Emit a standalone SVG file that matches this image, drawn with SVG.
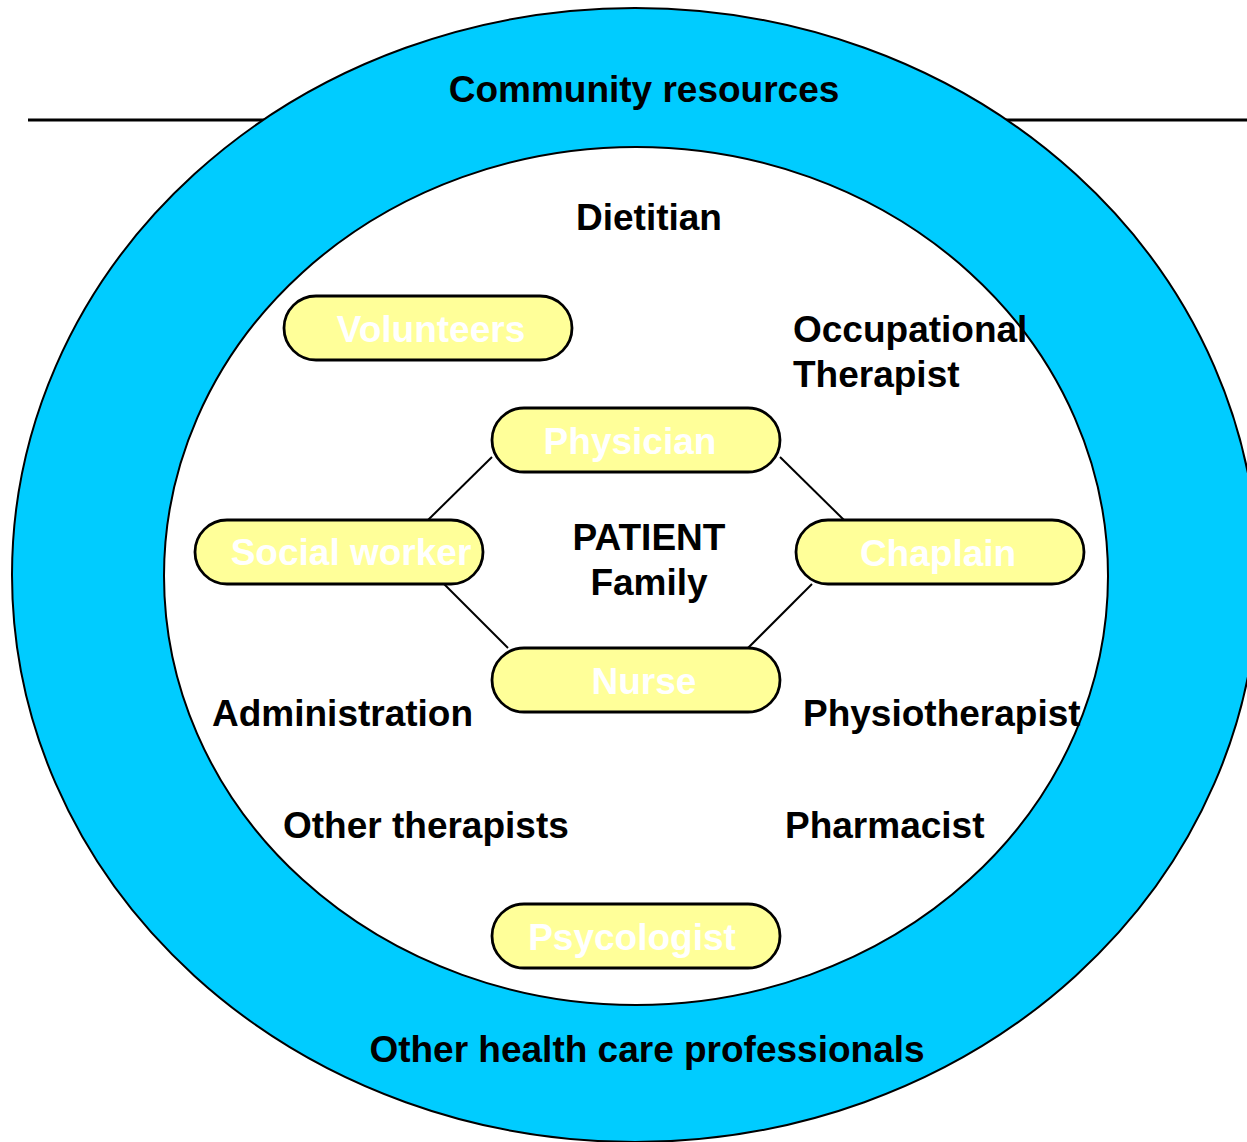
<svg xmlns="http://www.w3.org/2000/svg" width="1247" height="1142" viewBox="0 0 1247 1142">
<style>
.lbl{font-family:"Liberation Sans",Arial,sans-serif;font-weight:bold;font-size:37px;fill:#000}
.pt{font-family:"Liberation Sans",Arial,sans-serif;font-weight:bold;font-size:37px;fill:#fff;text-anchor:middle}
.pill{fill:#FFFF99;stroke:#000;stroke-width:2.8}
.mid{text-anchor:middle}
.conn{stroke:#000;stroke-width:2;fill:none}
</style>
<rect width="1247" height="1142" fill="#fff"/>
<line x1="28" y1="120" x2="1247" y2="120" stroke="#000" stroke-width="3"/>
<g id="outer-ring">
<ellipse cx="635" cy="575" rx="623" ry="567" fill="#00CCFF" stroke="#000" stroke-width="2"/>
<ellipse cx="636" cy="576" rx="472" ry="429" fill="#fff" stroke="#000" stroke-width="2"/>
<text class="lbl mid" x="644" y="102">Community resources</text>
<text class="lbl mid" x="647" y="1062">Other health care professionals</text>
</g>
<g id="connectors">
<line class="conn" x1="492" y1="457" x2="428" y2="520"/>
<line class="conn" x1="780" y1="457" x2="844" y2="520"/>
<line class="conn" x1="444" y1="584" x2="508" y2="648"/>
<line class="conn" x1="812" y1="584" x2="748" y2="648"/>
</g>
<g id="volunteers"><rect class="pill" x="284" y="296" width="288" height="64" rx="32"/><text class="pt" x="431" y="342">Volunteers</text></g>
<g id="physician"><rect class="pill" x="492" y="408" width="288" height="64" rx="32"/><text class="pt" x="630" y="454">Physician</text></g>
<g id="social-worker"><rect class="pill" x="195" y="520" width="288" height="64" rx="32"/><text class="pt" x="351" y="565">Social worker</text></g>
<g id="chaplain"><rect class="pill" x="796" y="520" width="288" height="64" rx="32"/><text class="pt" x="938" y="566">Chaplain</text></g>
<g id="nurse"><rect class="pill" x="492" y="648" width="288" height="64" rx="32"/><text class="pt" x="644" y="694">Nurse</text></g>
<g id="psycologist"><rect class="pill" x="492" y="904" width="288" height="64" rx="32"/><text class="pt" x="632" y="950">Psycologist</text></g>
<g id="patient"><text class="lbl mid" x="649" y="550">PATIENT</text><text class="lbl mid" x="649" y="595">Family</text></g>
<g id="dietitian"><text class="lbl mid" x="649" y="230">Dietitian</text></g>
<g id="occupational-therapist"><text class="lbl" x="793" y="342">Occupational</text><text class="lbl" x="793" y="387">Therapist</text></g>
<g id="administration"><text class="lbl" x="212" y="726">Administration</text></g>
<g id="physiotherapist"><text class="lbl" x="803" y="726">Physiotherapist</text></g>
<g id="other-therapists"><text class="lbl" x="283" y="838">Other therapists</text></g>
<g id="pharmacist"><text class="lbl" x="785" y="838">Pharmacist</text></g>
</svg>
